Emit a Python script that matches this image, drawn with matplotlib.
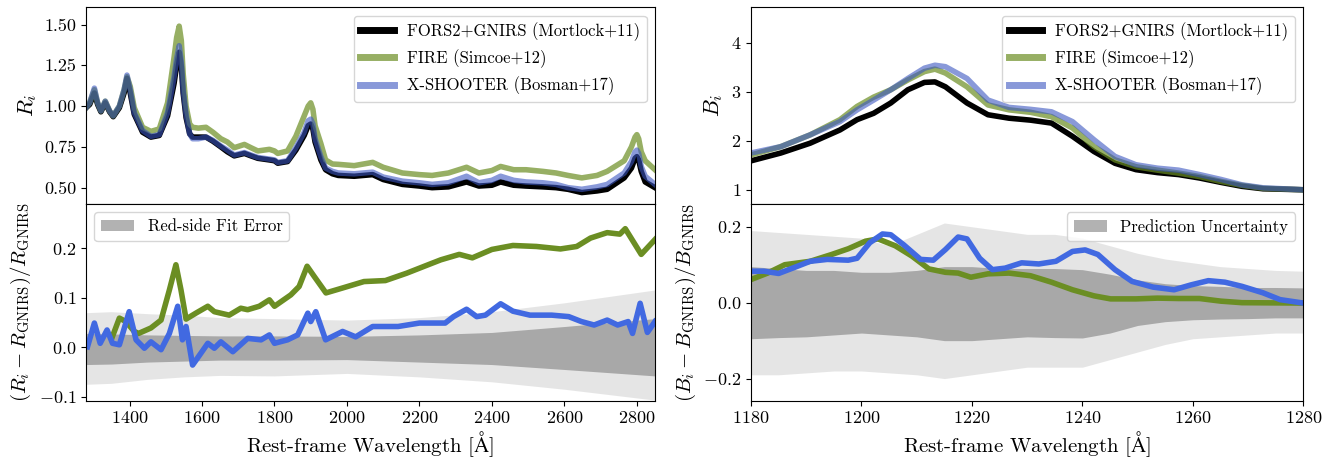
import matplotlib
matplotlib.use("Agg")
import matplotlib.pyplot as plt
import numpy as np

plt.rcParams['font.family'] = 'serif'
plt.rcParams['font.serif'] = ['cmr10', 'DejaVu Serif']
plt.rcParams['mathtext.fontset'] = 'cm'
plt.rcParams['axes.formatter.use_mathtext'] = True
plt.rcParams['axes.unicode_minus'] = True

# ---- red side (left column) ----
wl_r = [1280, 1290, 1303, 1312, 1321, 1333, 1345, 1355, 1372, 1385, 1393, 1402, 1413, 1436,
        1459, 1482, 1505, 1523, 1530, 1537, 1543, 1548, 1556, 1566, 1574, 1590, 1611, 1630,
        1652, 1670, 1689, 1717, 1735, 1754, 1786, 1800, 1809, 1836, 1859, 1882, 1893, 1900,
        1906, 1912, 1928, 1941, 1960, 1976, 2020, 2071, 2100, 2153, 2200, 2235, 2280, 2330,
        2364, 2400, 2424, 2460, 2494, 2540, 2577, 2610, 2648, 2690, 2718, 2765, 2785, 2795,
        2800, 2805, 2812, 2823, 2850]
r_gnirs = [0.99, 1.01, 1.08, 1.01, 0.965, 1.02, 0.965, 0.935, 0.99, 1.08, 1.17, 1.08, 0.95, 0.84,
           0.81, 0.82, 0.94, 1.14, 1.25, 1.33, 1.24, 1.08, 0.93, 0.83, 0.81, 0.81, 0.81, 0.785,
           0.75, 0.72, 0.695, 0.71, 0.695, 0.68, 0.67, 0.665, 0.65, 0.66, 0.73, 0.82, 0.88, 0.89,
           0.86, 0.78, 0.67, 0.61, 0.585, 0.575, 0.57, 0.58, 0.55, 0.52, 0.51, 0.50, 0.505, 0.535,
           0.51, 0.515, 0.535, 0.515, 0.51, 0.505, 0.50, 0.49, 0.47, 0.48, 0.49, 0.56, 0.62, 0.68,
           0.69, 0.67, 0.60, 0.535, 0.50]
r_fire = [0.99, 1.02, 1.10, 1.02, 0.97, 1.03, 0.97, 0.94, 1.00, 1.10, 1.18, 1.12, 0.99, 0.87,
          0.845, 0.86, 1.02, 1.30, 1.42, 1.49, 1.40, 1.20, 1.00, 0.89, 0.87, 0.865, 0.87, 0.84,
          0.80, 0.78, 0.745, 0.765, 0.745, 0.725, 0.735, 0.725, 0.71, 0.725, 0.815, 0.94, 1.00, 1.02,
          0.98, 0.88, 0.77, 0.67, 0.645, 0.643, 0.635, 0.655, 0.625, 0.59, 0.58, 0.575, 0.59, 0.625,
          0.59, 0.605, 0.63, 0.61, 0.61, 0.60, 0.59, 0.575, 0.56, 0.575, 0.60, 0.665, 0.75, 0.81,
          0.825, 0.80, 0.72, 0.665, 0.61]
r_xshoot = [0.99, 1.02, 1.11, 1.02, 0.97, 1.03, 0.97, 0.94, 1.00, 1.10, 1.19, 1.10, 0.96, 0.85,
            0.815, 0.825, 0.96, 1.18, 1.29, 1.37, 1.27, 1.10, 0.95, 0.83, 0.80, 0.80, 0.81, 0.79,
            0.755, 0.73, 0.70, 0.715, 0.70, 0.685, 0.675, 0.67, 0.655, 0.665, 0.745, 0.84, 0.91, 0.92,
            0.89, 0.80, 0.69, 0.62, 0.60, 0.59, 0.585, 0.595, 0.565, 0.54, 0.53, 0.52, 0.53, 0.57,
            0.53, 0.545, 0.57, 0.545, 0.535, 0.53, 0.52, 0.50, 0.49, 0.505, 0.52, 0.59, 0.66, 0.72,
            0.73, 0.71, 0.63, 0.57, 0.52]

# relative differences, red side
wl_dx = [1284, 1303, 1319, 1338, 1353, 1372, 1399, 1418, 1441, 1459, 1487, 1510, 1533, 1546,
         1556, 1574, 1597, 1616, 1634, 1652, 1685, 1726, 1763, 1786, 1800, 1836, 1864, 1892,
         1900, 1914, 1941, 1988, 2024, 2071, 2141, 2200, 2271, 2294, 2330, 2358, 2382, 2424,
         2458, 2505, 2565, 2612, 2647, 2682, 2718, 2747, 2776, 2788, 2809, 2829, 2850]
d_xshoot = [0.001, 0.049, 0.008, 0.035, 0.008, 0.005, 0.072, 0.015, -0.002, 0.011, -0.005, 0.028,
            0.083, 0.015, 0.042, -0.036, -0.012, 0.008, -0.002, 0.011, -0.009, 0.018, 0.015, 0.025,
            0.008, 0.015, 0.025, 0.069, 0.052, 0.072, 0.015, 0.032, 0.021, 0.042, 0.042, 0.049,
            0.049, 0.062, 0.077, 0.062, 0.065, 0.088, 0.073, 0.065, 0.065, 0.062, 0.052, 0.045,
            0.055, 0.045, 0.052, 0.028, 0.089, 0.03, 0.052]
wl_df = [1353, 1372, 1390, 1413, 1425, 1459, 1487, 1510, 1528, 1542, 1556, 1583, 1616, 1634,
         1675, 1707, 1726, 1758, 1786, 1800, 1845, 1868, 1890, 1910, 1942, 1988, 2047, 2106,
         2165, 2224, 2259, 2310, 2346, 2400, 2458, 2523, 2589, 2634, 2672, 2718, 2753, 2768,
         2812, 2850]
d_fire = [0.022, 0.059, 0.052, 0.032, 0.028, 0.039, 0.055, 0.116, 0.167, 0.116, 0.057, 0.069,
          0.083, 0.072, 0.065, 0.079, 0.076, 0.083, 0.096, 0.083, 0.106, 0.123, 0.164, 0.143,
          0.11, 0.12, 0.133, 0.135, 0.150, 0.167, 0.177, 0.188, 0.181, 0.198, 0.206, 0.204,
          0.199, 0.204, 0.221, 0.232, 0.229, 0.24, 0.188, 0.218]

band_wl_r = [1280, 1350, 1450, 1550, 1650, 1800, 2000, 2200, 2400, 2600, 2850]
r_outer_hi = [0.07, 0.072, 0.068, 0.065, 0.06, 0.058, 0.055, 0.06, 0.072, 0.09, 0.116]
r_outer_lo = [-0.075, -0.073, -0.065, -0.06, -0.057, -0.058, -0.053, -0.06, -0.07, -0.085, -0.107]
r_inner_hi = [0.028, 0.027, 0.025, 0.024, 0.023, 0.023, 0.022, 0.025, 0.03, 0.042, 0.058]
r_inner_lo = [-0.035, -0.034, -0.03, -0.028, -0.026, -0.026, -0.025, -0.03, -0.035, -0.045, -0.058]

# ---- blue side (right column) ----
wl_b = [1180, 1185.4, 1190.7, 1196.1, 1199.2, 1202.2, 1205.3, 1208.4, 1211.4, 1213.3, 1215.2,
        1219.1, 1222.9, 1226.7, 1230.6, 1234.4, 1238.2, 1242.1, 1245.9, 1249.7, 1253.6, 1257.4,
        1261.2, 1265.1, 1268.9, 1272.7, 1280]
b_gnirs = [1.59, 1.75, 1.95, 2.22, 2.43, 2.56, 2.77, 3.04, 3.19, 3.2, 3.10, 2.77, 2.53, 2.46,
           2.42, 2.36, 2.09, 1.78, 1.54, 1.41, 1.35, 1.31, 1.24, 1.15, 1.07, 1.02, 1.0]
b_fire = [1.71, 1.88, 2.12, 2.43, 2.70, 2.89, 3.04, 3.24, 3.41, 3.46, 3.38, 3.10, 2.73, 2.63,
          2.58, 2.49, 2.26, 1.88, 1.61, 1.47, 1.40, 1.34, 1.27, 1.17, 1.09, 1.03, 1.0]
b_xshoot = [1.75, 1.88, 2.12, 2.39, 2.63, 2.83, 3.04, 3.27, 3.48, 3.54, 3.51, 3.27, 2.83, 2.68,
            2.64, 2.59, 2.39, 2.02, 1.68, 1.51, 1.44, 1.40, 1.31, 1.21, 1.10, 1.04, 1.0]

wl_bdx = [1180, 1182.3, 1185, 1187.7, 1190.7, 1193.8, 1197.6, 1199.2, 1201.5, 1203.8, 1205.3,
          1207.6, 1210.7, 1213, 1215.2, 1217.5, 1219.1, 1221.4, 1223.7, 1226, 1229, 1232.1,
          1235.2, 1238.2, 1240.5, 1242.8, 1245.9, 1249, 1252.8, 1256.6, 1259.7, 1262.8, 1265.8,
          1268.9, 1272.7, 1275.8, 1280]
db_xshoot = [0.083, 0.083, 0.077, 0.092, 0.109, 0.114, 0.112, 0.117, 0.158, 0.181, 0.179, 0.153,
             0.114, 0.112, 0.140, 0.173, 0.168, 0.117, 0.087, 0.091, 0.105, 0.102, 0.109, 0.135,
             0.139, 0.127, 0.087, 0.056, 0.041, 0.034, 0.047, 0.058, 0.054, 0.043, 0.026, 0.008,
             -0.001]
wl_bdf = [1180, 1183, 1186.1, 1190.7, 1194.6, 1197.6, 1200.7, 1203, 1206.1, 1209.1, 1212.2,
          1215.2, 1217.5, 1219.8, 1222.9, 1226.7, 1230.6, 1234.4, 1238.2, 1242.1, 1245.1, 1249.7,
          1253.6, 1257.4, 1261.2, 1265.1, 1268.9, 1280]
db_fire = [0.061, 0.078, 0.10, 0.109, 0.127, 0.142, 0.162, 0.168, 0.150, 0.123, 0.089, 0.080,
           0.078, 0.067, 0.076, 0.078, 0.071, 0.054, 0.034, 0.018, 0.01, 0.01, 0.012, 0.011,
           0.011, 0.004, 0.0, -0.001]

band_wl_b = [1180, 1185, 1190, 1195, 1200, 1205, 1210, 1215, 1220, 1225, 1230, 1235, 1240,
             1245, 1250, 1255, 1260, 1265, 1270, 1275, 1280]
b_outer_hi = [0.19, 0.185, 0.18, 0.175, 0.17, 0.15, 0.18, 0.21, 0.2, 0.19, 0.18, 0.18, 0.17,
              0.15, 0.13, 0.115, 0.105, 0.095, 0.09, 0.085, 0.083]
b_outer_lo = [-0.19, -0.19, -0.185, -0.18, -0.18, -0.185, -0.19, -0.2, -0.19, -0.18, -0.17, -0.17,
              -0.17, -0.15, -0.13, -0.11, -0.095, -0.09, -0.085, -0.08, -0.08]
b_inner_hi = [0.095, 0.09, 0.085, 0.085, 0.08, 0.08, 0.085, 0.095, 0.095, 0.09, 0.09, 0.09, 0.087,
              0.075, 0.06, 0.05, 0.045, 0.043, 0.04, 0.04, 0.039]
b_inner_lo = [-0.095, -0.092, -0.09, -0.085, -0.08, -0.085, -0.09, -0.1, -0.1, -0.095, -0.09,
              -0.092, -0.093, -0.08, -0.06, -0.05, -0.045, -0.043, -0.042, -0.04, -0.04]

labels = ['FORS2+GNIRS (Mortlock+11)', 'FIRE (Simcoe+12)', 'X-SHOOTER (Bosman+17)']
green = 'olivedrab'
blue = 'royalblue'
blue_top = '#3a55c0'
xlab = 'Rest-frame Wavelength [$\\mathrm{\\AA}$]'

fig = plt.figure(figsize=(13.34, 4.61), dpi=100)
gl = fig.add_gridspec(2, 1, left=0.0645, right=0.491, top=0.984, bottom=0.131, hspace=0)
gr = fig.add_gridspec(2, 1, left=0.563, right=0.977, top=0.984, bottom=0.131, hspace=0)

ax1 = fig.add_subplot(gl[0])
ax2 = fig.add_subplot(gl[1], sharex=ax1)
ax3 = fig.add_subplot(gr[0])
ax4 = fig.add_subplot(gr[1], sharex=ax3)

# top left
ax1.plot(wl_r, r_gnirs, color='k', lw=4, label=labels[0])
ax1.plot(wl_r, r_fire, color=green, lw=4, alpha=0.7, label=labels[1])
ax1.plot(wl_r, r_xshoot, color=blue_top, lw=4, alpha=0.6, label=labels[2])
ax1.set_ylim(0.4, 1.605)
ax1.set_yticks([0.5, 0.75, 1.0, 1.25, 1.5])
ax1.yaxis.set_major_formatter(matplotlib.ticker.FormatStrFormatter('%.2f'))
ax1.set_ylabel('$R_i$', fontsize=16)
leg = ax1.legend(loc='upper right', fontsize=12)
for h in leg.get_lines():
    h.set_linewidth(5)
ax1.tick_params(bottom=False, labelbottom=False, labelsize=13)

# bottom left
ax2.fill_between(band_wl_r, r_outer_lo, r_outer_hi, color='gray', alpha=0.2, lw=0)
ax2.fill_between(band_wl_r, r_inner_lo, r_inner_hi, color='gray', alpha=0.6, lw=0,
                 label='Red-side Fit Error')
ax2.plot(wl_df, d_fire, color=green, lw=4)
ax2.plot(wl_dx, d_xshoot, color=blue, lw=4)
ax2.set_xlim(1280, 2850)
ax2.set_ylim(-0.108, 0.29)
ax2.set_yticks([-0.1, 0.0, 0.1, 0.2])
ax2.set_ylabel('$(R_i-R_{\\rm GNIRS})/R_{\\rm GNIRS}$', fontsize=15)
ax2.set_xlabel(xlab, fontsize=15, labelpad=2)
ax2.legend(loc='upper left', fontsize=12)
ax2.tick_params(labelsize=13)

# top right
ax3.plot(wl_b, b_gnirs, color='k', lw=4, label=labels[0])
ax3.plot(wl_b, b_fire, color=green, lw=4, alpha=0.7, label=labels[1])
ax3.plot(wl_b, b_xshoot, color=blue_top, lw=4, alpha=0.6, label=labels[2])
ax3.set_ylim(0.71, 4.72)
ax3.set_yticks([1, 2, 3, 4])
ax3.set_ylabel('$B_i$', fontsize=16)
leg = ax3.legend(loc='upper right', fontsize=12)
for h in leg.get_lines():
    h.set_linewidth(5)
ax3.tick_params(bottom=False, labelbottom=False, labelsize=13)

# bottom right
ax4.fill_between(band_wl_b, b_outer_lo, b_outer_hi, color='gray', alpha=0.2, lw=0)
ax4.fill_between(band_wl_b, b_inner_lo, b_inner_hi, color='gray', alpha=0.6, lw=0,
                 label='Prediction Uncertainty')
ax4.plot(wl_bdf, db_fire, color=green, lw=4)
ax4.plot(wl_bdx, db_xshoot, color=blue, lw=4)
ax4.set_xlim(1180, 1280)
ax4.set_ylim(-0.258, 0.26)
ax4.set_yticks([-0.2, 0.0, 0.2])
ax4.set_ylabel('$(B_i-B_{\\rm GNIRS})/B_{\\rm GNIRS}$', fontsize=15)
ax4.set_xlabel(xlab, fontsize=15, labelpad=2)
ax4.legend(loc='upper right', fontsize=12)
ax4.tick_params(labelsize=13)

plt.savefig('out.png', dpi=100)
